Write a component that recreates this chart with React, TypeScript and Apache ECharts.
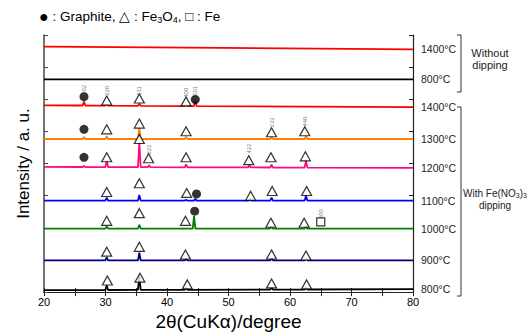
import React, { useEffect, useRef } from 'react';
import * as echarts from 'echarts';

// ---- data ----
const xMin = 20;
const xMax = 80;
const curveLabels = ['1400°C', '800°C', '1400°C', '1300°C', '1200°C', '1100°C', '1000°C', '900°C', '800°C'];
const curveColors = ['#ff0000', '#000000', '#ff0000', '#ff8000', '#ff0a80', '#0000ff', '#008000', '#000080', '#000000'];
const baseStart = [255, 221, 194, 159, 130, 95, 66, 33, 2];
const baseEnd = [252, 221, 192, 159, 129, 95, 66, 33, 3];
// peaks per curve: [2theta, height]
const peaks0: [number, number][] = [];
const peaks1: [number, number][] = [];
const peaks2: [number, number][] = [[26.5, 4], [30.2, 1], [35.5, 2], [43.1, 1], [44.6, 5]];
const peaks3: [number, number][] = [[26.5, 2], [30.2, 3], [35.5, 11], [43.1, 2], [57.0, 2], [62.6, 3]];
const peaks4: [number, number][] = [[26.5, 1], [30.2, 7], [35.5, 26], [37.1, 2], [43.1, 3], [53.4, 2], [57.0, 3], [62.6, 7]];
const peaks5: [number, number][] = [[30.2, 3], [35.5, 6], [43.1, 1], [44.6, 2], [53.5, 2], [57.0, 3], [62.6, 5]];
const peaks6: [number, number][] = [[30.2, 2], [35.5, 4], [44.4, 13], [57.0, 2], [62.6, 3]];
const peaks7: [number, number][] = [[30.2, 3], [35.5, 8], [43.1, 1], [57.0, 2], [62.6, 2]];
const peaks8: [number, number][] = [[30.2, 5], [35.5, 14], [43.1, 2], [57.0, 2], [62.6, 2]];
const allPeaks = [peaks0, peaks1, peaks2, peaks3, peaks4, peaks5, peaks6, peaks7, peaks8];

const graphiteMarks: [number, number][] = [[26.5, 203], [44.6, 200], [26.5, 169], [26.5, 140], [44.8, 102], [44.5, 84]];
const fe3o4Marks: [number, number][] = [
  [30.2, 199], [35.5, 201], [43.1, 198],
  [30.2, 169], [35.5, 175], [43.1, 167], [57.0, 166], [62.4, 167],
  [30.2, 140], [35.5, 159], [37.0, 139], [43.1, 140], [53.3, 137], [56.9, 140], [62.5, 141],
  [30.2, 104], [35.5, 113], [43.2, 103], [53.6, 100], [57.1, 105], [62.7, 105],
  [30.2, 74], [35.5, 82], [43.0, 74], [56.9, 72], [62.3, 72],
  [30.2, 42], [35.5, 47], [43.0, 39], [57.0, 39], [62.6, 38],
  [30.3, 12], [35.6, 15], [43.3, 8], [57.0, 9], [62.7, 8],
];
const feMarks: [number, number][] = [[65.0, 73]];
const indexLabels: [number, number, string][] = [
  [26.5, 210, '002'], [30.2, 209, '220'], [35.5, 209, '311'], [43.1, 207, '400'], [44.6, 209, '101'],
  [57.0, 176, '333'], [62.4, 177, '440'], [37.0, 148, '222'], [53.3, 149, '422'], [65.0, 81, '200'],
];

function buildCurve(i: number): [number, number][] {
  const b0 = baseStart[i];
  const b1 = baseEnd[i];
  const base = (x: number) => b0 + ((b1 - b0) * (x - xMin)) / (xMax - xMin);
  const pts: [number, number][] = [[xMin, b0]];
  const hw = 0.22;
  [...allPeaks[i]].sort((a, b) => a[0] - b[0]).forEach(([x, h]) => {
    pts.push([x - hw, base(x - hw)]);
    pts.push([x, base(x) + h]);
    pts.push([x + hw, base(x + hw)]);
  });
  pts.push([xMax, b1]);
  return pts;
}

const FONT = '"Liberation Sans", Arial, sans-serif';
const NARROW = '"Liberation Sans Narrow", "Liberation Sans", Arial, sans-serif';

export default function App() {
  const ref = useRef<HTMLDivElement>(null);
  useEffect(() => {
    if (!ref.current) return;
    const chart = echarts.init(ref.current, undefined, { renderer: 'svg' });
    const axisLine = { show: true, lineStyle: { color: '#222', width: 1.2 } };
    const lineSeries = curveLabels.map((lab, i) => ({
      type: 'line',
      id: 'c' + i,
      data: buildCurve(i),
      showSymbol: false,
      symbol: 'none',
      lineStyle: { color: curveColors[i], width: 1.8 },
      itemStyle: { color: curveColors[i] },
      endLabel: {
        show: true,
        formatter: () => lab,
        distance: 8,
        color: '#222',
        fontSize: 10.5,
        fontFamily: FONT,
      },
      z: 2,
    }));
    const option: any = {
      animation: false,
      grid: { left: 44, right: 119, top: 35, bottom: 34 },
      xAxis: [
        {
          type: 'value', min: xMin, max: xMax, interval: 5,
          name: '2θ(CuKα)/degree', nameLocation: 'middle', nameGap: 14,
          nameTextStyle: { fontSize: 19, color: '#000', fontFamily: FONT },
          axisLine, splitLine: { show: false },
          axisTick: { inside: true, length: 4, lineStyle: { color: '#222' } },
          axisLabel: {
            margin: 4, fontSize: 11, color: '#000', fontFamily: NARROW,
            formatter: (v: number) => (v % 10 === 0 ? String(v) : ''),
          },
        },
        {
          type: 'value', min: xMin, max: xMax, interval: 5, position: 'top',
          axisLine, splitLine: { show: false },
          axisTick: { inside: true, length: 4, lineStyle: { color: '#222' } },
          axisLabel: { show: false },
        },
      ],
      yAxis: [
        {
          type: 'value', min: 0, max: 267, interval: 33.375,
          name: 'Intensity / a. u.', nameLocation: 'middle', nameGap: 12,
          nameTextStyle: { fontSize: 17, color: '#000', fontFamily: FONT },
          axisLine: { show: true, lineStyle: { color: '#444', width: 1.5 } },
          splitLine: { show: false },
          axisTick: { inside: true, length: 4, lineStyle: { color: '#444' } },
          axisLabel: { show: false },
        },
        {
          type: 'value', min: 0, max: 267, interval: 33.375, position: 'right',
          axisLine, splitLine: { show: false },
          axisTick: { inside: true, length: 4, lineStyle: { color: '#222' } },
          axisLabel: { show: false },
        },
      ],
      series: [
        ...lineSeries,
        {
          type: 'scatter', data: graphiteMarks, symbol: 'circle', symbolSize: 9,
          itemStyle: { color: '#000' }, z: 5,
        },
        {
          type: 'scatter', data: fe3o4Marks, symbol: 'triangle', symbolSize: [10, 9],
          itemStyle: { color: '#fff', borderColor: '#000', borderWidth: 1.2 }, z: 5,
        },
        {
          type: 'scatter', data: feMarks, symbol: 'rect', symbolSize: 8,
          itemStyle: { color: '#fff', borderColor: '#000', borderWidth: 1.2 }, z: 5,
        },
        {
          type: 'scatter',
          data: indexLabels.map((d) => ({ value: [d[0], d[1]], name: d[2] })),
          symbolSize: 1,
          itemStyle: { color: 'rgba(0,0,0,0)' },
          label: {
            show: true, position: 'inside', formatter: '{b}', rotate: 90,
            fontSize: 6, color: '#555', fontFamily: FONT,
          },
          z: 6,
        },
      ],
      graphic: [
        {
          type: 'text', left: 39, top: 8,
          style: {
            text: '{dot|●} : Graphite, △ : Fe{s|3}O{s|4}, □ : Fe',
            fontSize: 13.5, fontFamily: FONT, fill: '#000',
            rich: {
              dot: { fontSize: 16, fontFamily: FONT },
              s: { fontSize: 9, verticalAlign: 'bottom', padding: [6, 0, 0, 0] },
            },
          },
        },
        // Without dipping bracket
        { type: 'polyline', shape: { points: [[457, 35], [461, 35], [461, 92], [457, 92]] }, style: { stroke: '#333', lineWidth: 1, fill: null } },
        { type: 'text', x: 490, y: 53, style: { text: 'Without', fontSize: 11, fontFamily: FONT, fill: '#222', align: 'center', verticalAlign: 'middle' } },
        { type: 'text', x: 490, y: 65, style: { text: 'dipping', fontSize: 11, fontFamily: FONT, fill: '#222', align: 'center', verticalAlign: 'middle' } },
        // With dipping bracket
        { type: 'polyline', shape: { points: [[457, 107], [461, 107], [461, 296], [457, 296]] }, style: { stroke: '#333', lineWidth: 1, fill: null } },
        {
          type: 'text', x: 495, y: 193,
          style: {
            text: 'With Fe(NO{s|3}){s|3}', fontSize: 10, fontFamily: FONT, fill: '#222', align: 'center', verticalAlign: 'middle',
            rich: { s: { fontSize: 7, padding: [5, 0, 0, 0] } },
          },
        },
        { type: 'text', x: 495, y: 205, style: { text: 'dipping', fontSize: 10, fontFamily: FONT, fill: '#222', align: 'center', verticalAlign: 'middle' } },
      ],
    };
    chart.setOption(option);
    return () => chart.dispose();
  }, []);
  return <div ref={ref} style={{ width: 532, height: 336, position: 'absolute', left: 0, top: 0 }} />;
}
